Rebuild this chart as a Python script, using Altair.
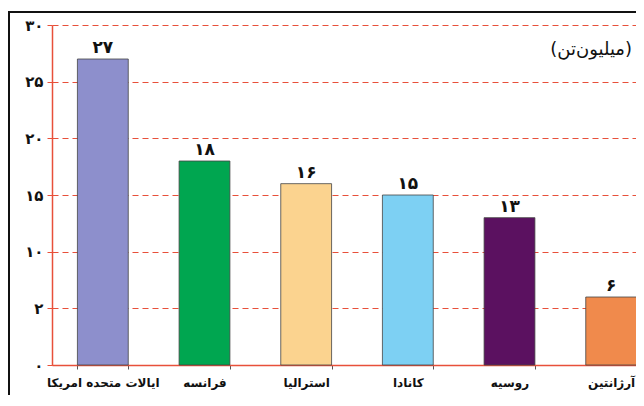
import altair as alt
import pandas as pd

countries = ["ایالات متحده امریکا", "فرانسه", "استرالیا", "کانادا", "روسیه", "آرژانتین"]
values = [27, 18, 16, 15, 13, 6]
value_labels = ["۲۷", "۱۸", "۱۶", "۱۵", "۱۳", "۶"]
colors = ["#8d8fcc", "#00a650", "#fbd38f", "#7dd0f3", "#5b1160", "#f08a4c"]
y_ticks = [0, 5, 10, 15, 20, 25, 30]
y_tick_labels = ["۰", "۲", "۱۰", "۱۵", "۲۰", "۲۵", "۳۰"]
unit_text = "(میلیون‌تن)"

df = pd.DataFrame({"country": countries, "value": values, "label": value_labels, "color": colors})

label_expr = "{" + ",".join(f"'{t}':'{l}'" for t, l in zip(y_ticks, y_tick_labels)) + "}[datum.value]"

FONT = "DejaVu Sans"
RED = "#e8503a"
x_scale = alt.Scale(range=[0, 610], paddingInner=0.5, paddingOuter=0.25)

x_enc = alt.X("country:N", sort=countries, scale=x_scale,
              axis=alt.Axis(title=None, labelAngle=0, labelFont=FONT, labelFontWeight="bold",
                            labelFontSize=12, labelColor="#111", labelPadding=8,
                            tickBand="extent", tickColor="#555", tickSize=4,
                            domainColor=RED, domainWidth=1.5, grid=False))
y_enc = alt.Y("value:Q", scale=alt.Scale(domain=[0, 30], nice=False),
              axis=alt.Axis(title=None, values=y_ticks, labelExpr=label_expr,
                            labelFont=FONT, labelFontWeight="bold", labelFontSize=15,
                            labelColor="#111", labelPadding=4, tickColor=RED, tickSize=5,
                            domainColor=RED, domainWidth=1.5, grid=True, gridColor=RED,
                            gridDash=[6, 4], gridWidth=1.2))

bars = alt.Chart(df).mark_bar(stroke="#444", strokeWidth=0.8).encode(
    x=x_enc, y=y_enc,
    color=alt.Color("color:N", scale=None),
)

texts = alt.Chart(df).mark_text(dy=-11, font=FONT, fontWeight="bold", fontSize=17,
                                color="#111").encode(
    x=alt.X("country:N", sort=countries, scale=x_scale),
    y="value:Q",
    text="label:N",
)

unit = alt.Chart(pd.DataFrame({"t": [unit_text]})).mark_text(
    align="right", baseline="middle", font=FONT, fontSize=18, color="#111"
).encode(x=alt.value(580), y=alt.value(25), text="t:N")

frame = alt.Chart(pd.DataFrame({"a": [1]})).mark_rect(
    fill=None, stroke="#111", strokeWidth=2
).encode(x=alt.value(-43), x2=alt.value(700), y=alt.value(-13), y2=alt.value(420))

chart = alt.layer(bars, texts, unit, frame).properties(
    width=584, height=340,
    autosize=alt.AutoSizeParams(type="none"),
    padding={"left": 44, "top": 17, "right": 0, "bottom": 30},
    background="white",
).configure_view(stroke=None)

chart.save("out.html", embed_options={"renderer": "svg", "actions": False})
